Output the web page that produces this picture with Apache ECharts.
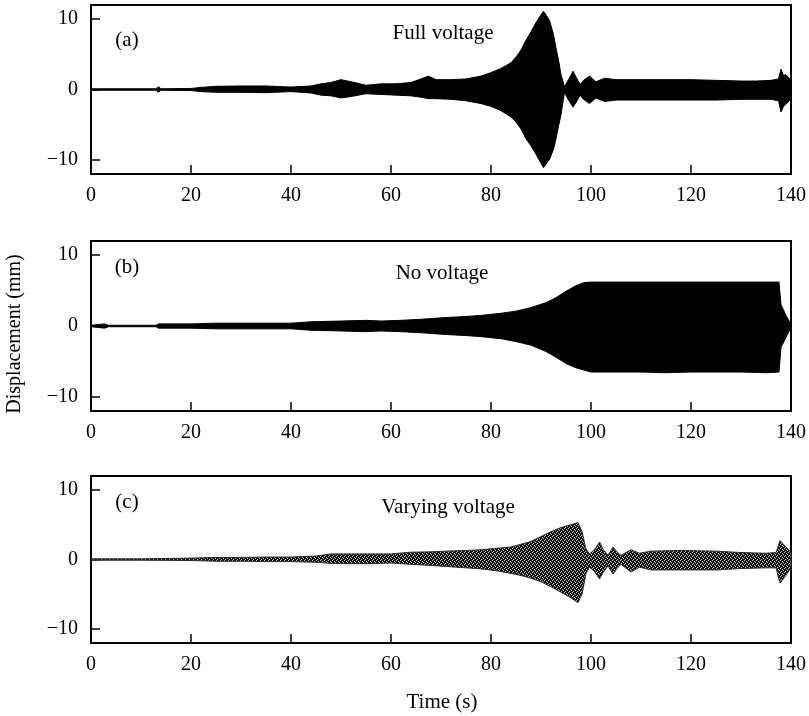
<!DOCTYPE html>
<html>
<head>
<meta charset="utf-8">
<script src="https://cdn.jsdelivr.net/npm/echarts@6/dist/echarts.min.js"></script>
<style>
html,body{margin:0;padding:0;background:#fff;}
#chart{width:809px;height:716px;}
</style>
</head>
<body>
<div id="chart"></div>
<script>
// X-axis tick labels and y tick values
var xTicks = [0, 20, 40, 60, 80, 100, 120, 140];
var yTicks = [-10, 0, 10];

// Panel (a) Full voltage: envelope of displacement (mm) vs time (s)
var timeA  = [0, 5, 10, 13, 13.5, 14, 20, 22, 25, 30, 35, 40, 44, 46, 48, 50, 52, 55, 58, 61, 64, 66, 67.5, 69, 72, 75, 78, 80, 82, 84, 85, 86, 87, 88, 89, 90, 90.5, 91, 91.7, 92.5, 93, 93.5, 94, 94.7, 95.5, 96.4, 97.2, 97.8, 98.5, 99.7, 101, 102.7, 105, 110, 115, 120, 125, 130, 133, 136, 137.5, 138, 138.5, 139, 140];
var upperA = [0.1, 0.1, 0.1, 0.1, 0.4, 0.1, 0.15, 0.3, 0.45, 0.5, 0.5, 0.35, 0.5, 0.8, 1.0, 1.4, 1.1, 0.6, 0.8, 0.8, 1.0, 1.5, 1.9, 1.4, 1.4, 1.5, 1.9, 2.4, 3.0, 3.8, 4.6, 5.6, 7.0, 8.2, 9.5, 10.6, 11.1, 10.6, 9.8, 7.8, 5.9, 4.2, 2.1, 0.4, 1.4, 2.6, 1.5, 0.7, 1.3, 1.9, 1.1, 1.6, 1.4, 1.4, 1.4, 1.4, 1.3, 1.2, 1.2, 1.3, 1.5, 2.9, 2.0, 2.1, 1.3];
var lowerA = [-0.1, -0.1, -0.1, -0.1, -0.4, -0.1, -0.15, -0.3, -0.4, -0.4, -0.45, -0.3, -0.5, -0.8, -0.9, -1.2, -1.0, -0.6, -0.7, -0.8, -0.9, -1.1, -1.3, -1.3, -1.4, -1.6, -2.0, -2.4, -3.0, -3.9, -4.6, -5.6, -7.0, -8.0, -9.2, -10.5, -11.1, -10.6, -9.9, -8.5, -7.0, -5.2, -3.6, -0.4, -1.5, -2.5, -1.6, -0.8, -1.4, -2.0, -1.2, -1.7, -1.5, -1.5, -1.5, -1.5, -1.5, -1.4, -1.4, -1.4, -1.6, -3.2, -2.4, -2.1, -1.3];

// Panel (b) No voltage
var timeB  = [0, 2.7, 3.5, 13, 13.5, 17, 20, 25, 30, 35, 40, 44, 50, 55, 58, 62, 66, 71, 75, 78, 82, 85, 88, 91, 93, 95, 97, 98.5, 100, 105, 110, 115, 120, 125, 130, 135, 137.6, 138, 139, 140];
var upperB = [0.1, 0.3, 0.1, 0.1, 0.3, 0.3, 0.3, 0.4, 0.4, 0.4, 0.4, 0.6, 0.7, 0.8, 0.7, 0.8, 0.95, 1.2, 1.35, 1.5, 1.8, 2.1, 2.6, 3.3, 4.0, 4.9, 5.7, 6.1, 6.2, 6.2, 6.2, 6.2, 6.2, 6.2, 6.2, 6.2, 6.2, 3.0, 1.5, 0.2];
var lowerB = [-0.1, -0.3, -0.1, -0.1, -0.3, -0.3, -0.3, -0.4, -0.4, -0.4, -0.4, -0.6, -0.7, -0.8, -0.7, -0.8, -0.95, -1.2, -1.35, -1.5, -1.8, -2.2, -2.7, -3.6, -4.4, -5.3, -5.9, -6.2, -6.5, -6.5, -6.5, -6.6, -6.5, -6.5, -6.5, -6.6, -6.5, -3.0, -1.6, -0.2];

// Panel (c) Varying voltage
var timeC  = [0, 10, 20, 25, 30, 35, 40, 45, 48, 52, 56, 60, 64, 68, 71, 75, 78, 81, 84, 86, 88, 90, 92, 94, 96, 97.4, 98.2, 99, 99.7, 100.8, 101.7, 102.5, 103.4, 104.4, 105.3, 106, 108, 109.7, 112, 118, 125, 130, 135, 137, 137.8, 139, 140];
var upperC = [0.1, 0.1, 0.2, 0.3, 0.3, 0.35, 0.35, 0.5, 0.8, 0.8, 0.8, 0.8, 1.05, 1.1, 1.2, 1.3, 1.4, 1.6, 1.8, 2.2, 2.6, 3.3, 4.0, 4.6, 5.0, 5.3, 4.0, 1.5, 0.8, 1.5, 2.5, 1.4, 0.6, 1.8, 1.0, 0.6, 1.4, 0.9, 1.2, 1.3, 1.2, 1.0, 0.9, 1.0, 2.7, 1.8, 1.0];
var lowerC = [-0.1, -0.1, -0.15, -0.25, -0.25, -0.3, -0.3, -0.4, -0.55, -0.6, -0.6, -0.5, -0.7, -0.85, -1.0, -1.2, -1.35, -1.6, -2.0, -2.3, -2.7, -3.2, -3.9, -4.7, -5.5, -6.2, -5.0, -2.0, -1.1, -1.8, -2.8, -1.8, -0.9, -2.1, -1.2, -0.7, -1.8, -1.1, -1.5, -1.5, -1.5, -1.3, -1.2, -1.2, -3.4, -2.3, -1.1];

var panelTags = ['(a)', '(b)', '(c)'];
var panelTitles = ['Full voltage', 'No voltage', 'Varying voltage'];

var font = '"Liberation Serif", "Times New Roman", serif';

// stipple pattern for the grey trace of panel (c)
function stipple() {
  var c = document.createElement('canvas');
  c.width = 4; c.height = 4;
  var ctx = c.getContext('2d');
  ctx.fillStyle = '#141414'; ctx.fillRect(0, 0, 4, 4);
  ctx.fillStyle = '#c4c4c4';
  [[0, 0], [2, 1], [1, 3], [3, 2]].forEach(function (p) { ctx.fillRect(p[0], p[1], 1, 1); });
  return {image: c, repeat: 'repeat'};
}

var grids = [
  {left: 91, width: 700, top: 5, height: 169},
  {left: 91, width: 700, top: 241, height: 170},
  {left: 91, width: 700, top: 476, height: 167}
];
var fills = ['#000', '#000', stipple()];
var lineCols = ['#000', '#000', '#2a2a2a'];
var data = [[timeA, upperA, lowerA], [timeB, upperB, lowerB], [timeC, upperC, lowerC]];

var xAxes = [], yAxes = [], series = [];
grids.forEach(function (g, i) {
  g.show = true; g.borderColor = '#000'; g.borderWidth = 2; g.backgroundColor = 'transparent';
  xAxes.push({
    type: 'value', gridIndex: i, min: 0, max: 140, interval: 20,
    axisLine: {show: false, onZero: false},
    axisTick: {show: true, inside: true, length: 9, lineStyle: {color: '#000', width: 1.5}},
    axisLabel: {color: '#000', fontFamily: font, fontSize: 20, margin: 12, customValues: xTicks},
    splitLine: {show: false}
  });
  yAxes.push({
    type: 'value', gridIndex: i, min: -12, max: 12,
    axisLine: {show: false, onZero: false},
    axisTick: {show: true, inside: true, length: 9, lineStyle: {color: '#000', width: 1.5}, customValues: yTicks},
    axisLabel: {color: '#000', fontFamily: font, fontSize: 20, margin: 13, customValues: yTicks,
      formatter: function (v) { return v < 0 ? '\u2212' + Math.abs(v) : String(v); }},
    splitLine: {show: false}
  });
  (function (d, idx) {
    series.push({
      type: 'custom', xAxisIndex: idx, yAxisIndex: idx, silent: true,
      data: [[0, 0]],
      renderItem: function (params, api) {
        var t = d[0], up = d[1], lo = d[2], pts = [];
        for (var k = 0; k < t.length; k++) pts.push(api.coord([t[k], up[k]]));
        for (var k2 = t.length - 1; k2 >= 0; k2--) pts.push(api.coord([t[k2], lo[k2]]));
        return {
          type: 'polygon',
          shape: {points: pts},
          style: {fill: fills[idx], stroke: lineCols[idx], lineWidth: 1}
        };
      }
    });
  })(data[i], i);
});

var graphics = [];
var tagPos = [[127, 40], [127, 267], [127, 502]];
var titlePos = [[443, 33], [442, 273], [448, 507]];
for (var i = 0; i < 3; i++) {
  graphics.push({type: 'text', x: tagPos[i][0], y: tagPos[i][1],
    style: {text: panelTags[i], font: '21px ' + font, fill: '#000', align: 'center', verticalAlign: 'middle'}});
  graphics.push({type: 'text', x: titlePos[i][0], y: titlePos[i][1],
    style: {text: panelTitles[i], font: '21px ' + font, fill: '#000', align: 'center', verticalAlign: 'middle'}});
}
graphics.push({type: 'text', x: 442, y: 702,
  style: {text: 'Time (s)', font: '21px ' + font, fill: '#000', align: 'center', verticalAlign: 'middle'}});
graphics.push({type: 'text', x: 15, y: 334, rotation: Math.PI / 2,
  style: {text: 'Displacement (mm)', font: '20px ' + font, fill: '#000', align: 'center', verticalAlign: 'middle'}});

var chart = echarts.init(document.getElementById('chart'), null, {renderer: 'canvas'});
chart.setOption({
  animation: false,
  backgroundColor: '#fff',
  grid: grids,
  xAxis: xAxes,
  yAxis: yAxes,
  series: series,
  graphic: graphics
});
</script>
</body>
</html>
